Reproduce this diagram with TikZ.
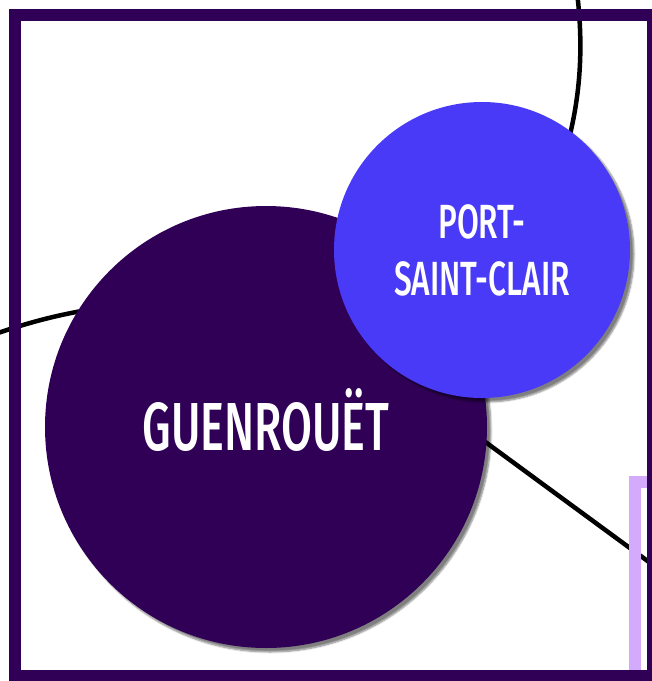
\documentclass[tikz,border=0pt]{standalone}
\usepackage{fontspec}
\newfontfamily\cityfont[FakeStretch=0.66]{Fira Sans Medium}
\usepackage{tikz}
\usetikzlibrary{positioning,shadows.blur}
\definecolor{cityviolet}{HTML}{300057}
\definecolor{cityblue}{HTML}{483AF6}
\definecolor{citylilac}{HTML}{D4AAFC}

\begin{document}
\begin{tikzpicture}[x=1pt, y=-1pt,
  town/.style = {shape=circle, inner sep=0pt, text=white, align=center,
    blur shadow={shadow xshift=4pt, shadow yshift=-4pt,
      shadow opacity=50, shadow blur steps=6}},
  road/.style = {draw, black, line width=4.5pt},
  frame/.style = {draw, line width=12pt}
  ]
  \useasboundingbox (0,0) rectangle (652,681);
  \coordinate (top) at (577,-8);
  \coordinate (west) at (-8,335);
  \coordinate (southeast) at (668,576);
  \coordinate (bendtop) at (566,150);
  \coordinate (bendwest) at (100,308);
  \coordinate (bendeast) at (450,416);
  \path (266,427) coordinate (guenpos) (482,248) coordinate (portpos);
  \draw[road] (top) .. controls (584,50) and (580,100) .. (bendtop) -- (portpos);
  \draw[road] (west) .. controls (30,322) and (60,314) .. (bendwest) -- (guenpos);
  \draw[road] (guenpos) -- (bendeast) -- (southeast);
  \draw[frame, citylilac] (635,482) rectangle (720,720);
  \node[town, fill=cityviolet, minimum size=442pt, font=\cityfont\fontsize{68}{70}\selectfont,
    text height=47pt, text depth=0pt] (guen) at (guenpos) {GUENROUËT};
  \node[town, fill=cityblue, minimum size=296pt, font=\cityfont\fontsize{48}{57}\selectfont,
    yshift=-2pt] (port) at (portpos) {PORT-\\SAINT-CLAIR};
  \draw[frame, cityviolet] (15,15) rectangle (653,676);
\end{tikzpicture}
\end{document}
